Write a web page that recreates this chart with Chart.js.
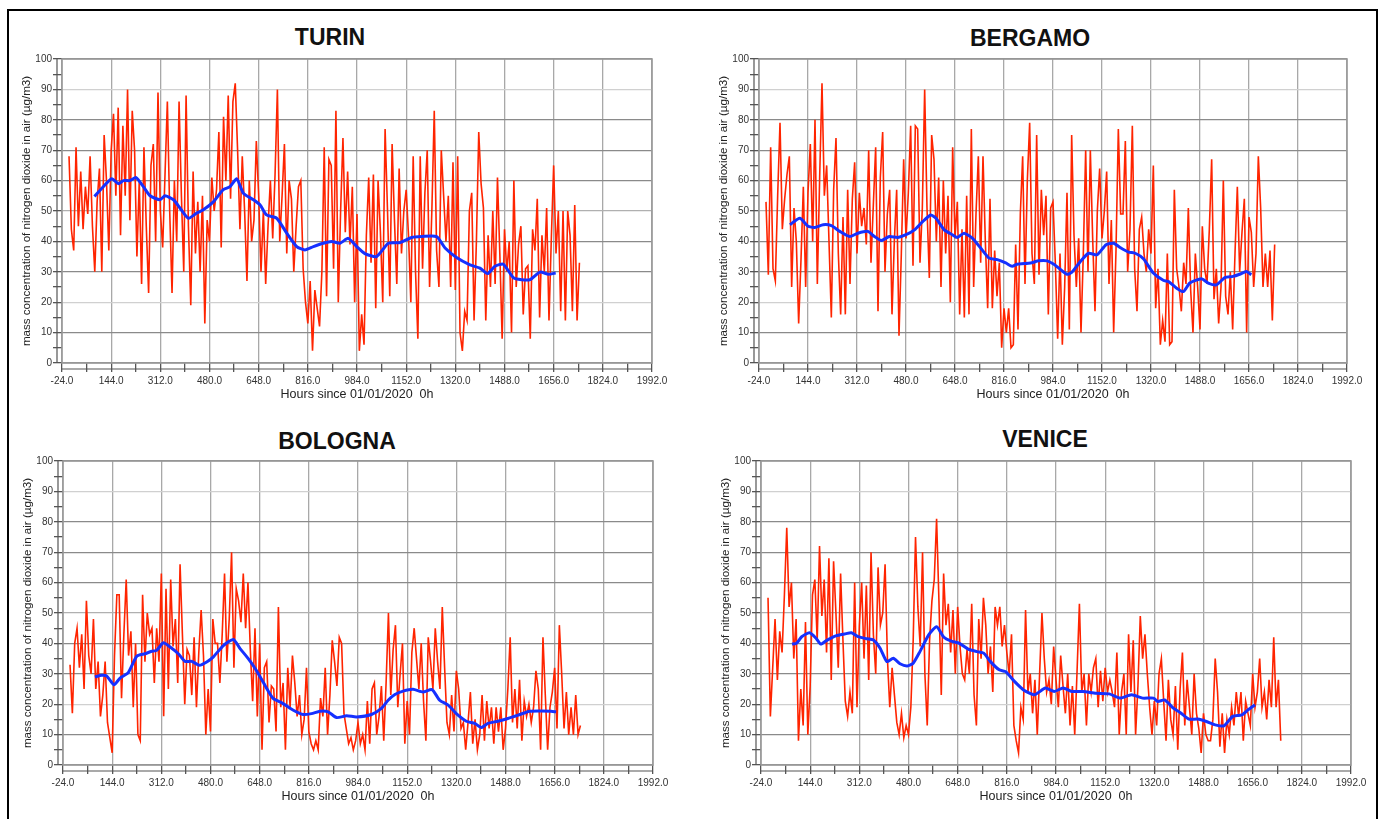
<!DOCTYPE html>
<html>
<head>
<meta charset="utf-8">
<script src="https://cdn.jsdelivr.net/npm/chart.js@4.4.1/dist/chart.umd.min.js"></script>
<style>
  body { margin: 0; background: #fff; width: 1378px; height: 819px; overflow: hidden; position: relative; font-family: 'Liberation Sans', Arial, sans-serif; }
  canvas { position: absolute; }
  .ttl { position: absolute; font-weight: bold; font-size: 23px; color: #111; transform: translate(-50%, -50%); white-space: nowrap; }
  #frame { position: absolute; left: 7px; top: 9px; width: 1367px; height: 820px; border: 2px solid #000; }
</style>
</head>
<body>
<div id="frame"></div>
<div class="ttl" style="left:330px; top:37px;">TURIN</div>
<div class="ttl" style="left:1030px; top:38px;">BERGAMO</div>
<div class="ttl" style="left:337px; top:441px;">BOLOGNA</div>
<div class="ttl" style="left:1045px; top:439px;">VENICE</div>
<canvas id="turin"></canvas>
<canvas id="bergamo"></canvas>
<canvas id="bologna"></canvas>
<canvas id="venice"></canvas>
<script>
// hourly NO2 series sampled every 8 h starting at hour 0
const redStepHours = 8;

const turinRed = [
  68,44,37,71,45,63,44,58,49,68,45,30,53,64,30,75,60,37,70,82,55,
  84,42,78,55,90,47,83,70,35,60,26,71,45,23,65,72,40,89,50,38,62,
  86,50,23,60,40,86,55,30,88,45,19,63,36,53,30,55,13,47,40,61,50,
  57,76,38,81,60,88,54,86,92,70,44,68,50,27,60,40,47,73,55,30,50,
  26,45,60,41,62,90,40,55,72,36,60,54,30,45,58,60,31,20,13,27,4,
  24,18,12,30,71,22,67,65,31,83,20,50,74,43,63,39,58,20,49,4,16,
  6,42,61,33,62,18,60,43,20,77,51,22,72,47,26,64,36,50,57,42,20,
  68,30,8,68,31,56,70,25,51,83,37,25,70,55,40,55,25,66,24,68,10,
  4,17,14,50,56,14,40,76,59,51,14,42,25,50,26,61,36,8,44,30,40,
  10,60,25,39,45,16,31,32,8,44,37,54,15,42,30,51,14,41,65,36,50,
  17,50,14,50,42,17,52,14,33
];
const turinAvgHours = [87,117,146,169,186,208,229,254,277,311,328,357,379,408,436,459,493,527,550,573,
  596,630,653,675,710,744,778,806,835,869,897,926,954,983,1011,1051,1091,1131,1171,1205,
  1256,1285,1324,1370,1404,1430,1455,1484,1518,1547,1575,1609,1638,1663];
const turinAvg = [54.8,58,60.6,59,60,60,61,58,55,53.7,55,53.7,51,47.6,49.3,50.4,53,57,58,60.6,
  55.8,53.7,52,48.7,47.6,42.7,38.3,37.2,38.3,39.4,40,39.4,41,38.3,36,35,39.4,39.6,41.3,41.6,
  41.6,37.8,34.7,32.3,31.2,29.4,31.8,32.5,28.1,27.4,27.4,29.9,29.2,29.6];

const bergamoRed = [
  53,29,71,31,27,55,79,44,54,62,68,25,51,40,13,34,58,25,56,72,40,
  80,26,61,92,55,65,40,15,57,74,36,16,48,16,57,26,54,66,36,56,45,
  51,39,70,33,52,71,17,61,76,30,49,57,16,40,57,9,36,67,41,56,78,
  32,78,77,33,51,90,51,28,75,67,40,61,25,60,36,55,20,71,41,53,16,
  44,15,55,16,77,25,49,68,33,68,40,18,54,18,37,22,33,5,18,10,18,
  5,6,39,11,49,68,26,60,79,36,26,75,29,57,42,55,16,51,53,33,8,
  36,6,25,56,11,75,42,25,41,10,36,70,30,70,41,17,50,64,41,50,63,
  26,47,10,37,77,49,49,73,30,44,78,31,17,44,48,36,30,44,36,65,18,
  31,6,14,7,36,6,7,57,31,25,17,33,26,51,24,10,36,25,11,45,31,
  26,44,67,21,31,13,25,60,22,16,30,11,36,58,30,43,54,10,48,43,25,
  36,68,51,25,36,25,37,14,39
];
const bergamoAvgHours = [82,116,144,167,196,224,253,287,315,349,372,395,423,452,480,509,537,565,583,611,
  639,656,679,708,736,765,793,822,844,861,907,935,964,987,1004,1032,1049,1078,1106,1135,
  1166,1192,1214,1243,1266,1294,1328,1362,1380,1408,1431,1453,1493,1516,1544,1573,1601,1624,1647,1664];
const bergamoAvg = [45.5,47.6,45,44.6,45.5,45.2,43.3,41.6,42.7,43.3,41.6,40.3,41.6,41.3,42.2,43.8,46.5,48.7,47.6,43.8,
  42.2,41.3,42.7,41,37.8,34.5,34,32.9,31.8,32.5,32.9,33.6,33.6,32.5,31.2,29.2,29.9,33.4,36.1,35.6,
  38.9,39.4,38,36.5,36.1,34.3,29.6,27.2,26.8,24.6,23.5,26.3,27.7,26.3,25.7,28.1,28.5,29.2,30.1,29];

const bolognaRed = [
  33,17,40,45,32,43,25,54,36,30,48,25,34,16,23,34,14,9,4,36,56,
  56,22,43,61,36,44,19,40,10,8,56,34,50,43,45,27,45,34,63,16,58,
  25,61,39,48,27,66,43,20,38,36,23,42,19,37,51,36,10,25,11,48,40,
  40,27,43,63,34,48,70,32,58,54,47,63,45,60,38,21,45,16,40,5,32,
  34,14,26,25,11,52,19,27,5,32,19,36,27,16,23,10,15,32,11,7,5,
  8,5,22,16,32,10,23,41,34,26,42,40,17,12,7,9,5,8,14,7,10,
  5,21,7,25,27,10,16,26,8,27,50,23,38,46,19,30,40,7,21,10,37,
  45,35,25,40,21,8,42,34,25,45,34,25,52,32,14,10,23,11,31,25,12,
  14,5,14,24,7,15,5,10,23,8,21,12,19,7,19,11,19,5,12,25,42,
  14,25,12,28,8,21,16,20,14,19,31,25,5,42,23,5,19,24,32,12,46,
  30,12,24,10,19,10,23,10,13
];
const bolognaAvgHours = [85,108,125,150,171,199,228,256,279,296,319,342,370,393,416,442,467,489,524,558,
  581,609,637,666,694,728,763,797,825,854,882,911,945,979,1030,1064,1087,1110,1138,1172,
  1206,1237,1263,1292,1320,1354,1383,1405,1428,1462,1496,1531,1570,1610,1644,1661];
const bolognaAvg = [29,29.5,29.3,26.4,28.6,30.4,35.8,36.6,37.4,37.7,40.2,38.8,36.6,34.1,34.1,32.8,33.9,35.5,39.3,41.3,
  38.3,35,31.1,26.2,21.9,20.2,18,16.6,16.9,17.7,17.5,15.6,16.2,15.8,16.6,18.6,21.3,23.2,24.3,24.9,
  24,24.8,21.3,19.7,16.9,14.4,13.7,12.3,13.7,14.4,15.3,16.4,17.7,17.8,17.7,17.5];

const veniceRed = [
  55,16,32,48,28,44,37,56,78,52,60,35,48,8,25,13,47,10,26,56,61,
  41,72,49,61,37,68,28,67,50,32,63,41,21,16,24,17,60,19,46,60,35,
  59,28,70,43,30,65,46,50,66,35,19,32,23,14,10,17,9,13,10,19,41,
  75,52,39,70,30,13,41,54,61,81,54,23,63,46,53,37,51,30,52,39,30,
  28,38,30,53,23,13,48,35,55,46,30,39,24,52,46,52,39,46,37,30,43,
  13,8,4,19,15,51,24,30,17,28,10,30,50,35,24,28,20,39,28,19,36,
  26,17,30,13,26,10,31,53,24,30,13,30,24,32,35,19,31,21,32,24,28,
  24,19,37,10,24,30,10,43,24,41,10,26,49,35,43,30,19,10,21,13,30,
  35,21,8,28,15,10,26,5,25,37,13,28,19,10,30,17,12,4,17,10,8,
  8,15,35,24,6,17,4,15,10,19,13,24,16,24,8,21,17,13,30,19,24,
  35,19,24,15,28,19,42,19,28,8
];
const veniceAvgHours = [82,97,115,142,164,180,202,232,262,285,308,338,360,383,406,428,451,476,496,519,
  549,576,601,624,654,684,714,737,760,790,812,842,873,910,948,978,1008,1038,1076,1121,
  1166,1204,1242,1280,1317,1332,1355,1385,1408,1438,1468,1498,1528,1558,1588,1619,1641,1664];
const veniceAvg = [39.8,40,42.2,43.5,41.7,39.8,41.1,42.5,43.1,43.5,42.2,41.5,41.1,38.4,34,35.1,33.3,32.6,33.5,37.3,
  42.8,45.5,42,40.8,40,38.1,37.3,36.8,34,31.3,30.7,27.5,24.7,23.1,25.3,24.2,25.3,24.2,24.2,23.6,
  23.4,22,23.1,22,22,20.9,21.4,18.7,17.3,15.1,15.1,14.3,13.2,12.9,16,16.5,18.2,19.8];

const xMin = -24, xMax = 1992, xMajor = 168;
const yTitle = 'mass concentration of nitrogen dioxide in air (\u00b5g/m3)';
const xTitle = 'Hours since 01/01/2020  0h';

Chart.defaults.font.family = "'Liberation Sans', Arial, sans-serif";

// plot box + detached axis lines like the original software
const framePlugin = {
  id: 'frame',
  beforeDatasetsDraw(chart) {
    const a = chart.chartArea, c = chart.ctx;
    c.save();
    c.strokeStyle = '#9a9a9a';
    c.lineWidth = 1.6;
    c.strokeRect(a.left, a.top, a.right - a.left, a.bottom - a.top);
    c.strokeStyle = '#555';
    c.lineWidth = 1.2;
    c.beginPath();
    c.moveTo(a.left, a.bottom + 6); c.lineTo(a.right, a.bottom + 6);
    c.moveTo(a.left - 5, a.top); c.lineTo(a.left - 5, a.bottom);
    c.stroke();
    c.restore();
  }
};

function makePanel(id, box, red, avgHours, avg) {
  const el = document.getElementById(id);
  const padL = 62, padT = 10, padR = 24, padB = 48;
  el.width = box.right - box.left + padL + padR;
  el.height = box.bottom - box.top + padT + padB;
  el.style.left = (box.left - padL) + 'px';
  el.style.top = (box.top - padT) + 'px';

  const isMajorX = v => Math.abs(((v - xMin) % xMajor)) < 0.01;

  new Chart(el, {
    type: 'line',
    data: {
      datasets: [
        {
          data: avgHours.map((h, i) => ({ x: h, y: avg[i] })),
          borderColor: '#1530ff',
          borderWidth: 3,
          pointRadius: 0,
          tension: 0.2
        },
        {
          data: red.map((v, i) => ({ x: i * redStepHours, y: v })),
          borderColor: '#ff2400',
          borderWidth: 1.6,
          pointRadius: 0,
          tension: 0
        }
      ]
    },
    options: {
      responsive: false,
      devicePixelRatio: 1,
      animation: false,
      events: [],
      layout: { padding: { top: padT, right: padR, left: 0, bottom: 0 } },
      plugins: { legend: { display: false }, tooltip: { enabled: false } },
      scales: {
        x: {
          type: 'linear',
          min: xMin, max: xMax,
          afterFit: s => { s.height = padB; },
          border: { display: false },
          grid: {
            color: c => isMajorX(c.tick.value) ? '#a8a8a8' : 'rgba(0,0,0,0)',
            tickColor: '#555',
            lineWidth: 1.3,
            tickLength: 9
          },
          ticks: {
            stepSize: 84,
            autoSkip: false,
            maxRotation: 0,
            padding: 3,
            color: '#333',
            font: { size: 10 },
            callback: v => isMajorX(v) ? v.toFixed(1) : ''
          },
          title: { display: true, text: xTitle, color: '#222', font: { size: 12.5 }, padding: { top: 0, bottom: 9 } }
        },
        y: {
          min: 0, max: 100,
          afterFit: s => { s.width = padL; },
          border: { display: false },
          grid: {
            color: c => {
              const v = c.tick.value;
              if (v % 10 !== 0) return 'rgba(0,0,0,0)';
              if (v === 20 || v === 90) return '#d0d0d0';
              if (v === 50) return '#b0b0b0';
              return '#8a8a8a';
            },
            tickColor: '#555',
            lineWidth: 1.3,
            tickLength: 9
          },
          ticks: {
            stepSize: 5,
            autoSkip: false,
            padding: 1,
            color: '#333',
            font: { size: 10 },
            callback: v => v % 10 === 0 ? v : ''
          },
          title: { display: true, text: yTitle, color: '#222', font: { size: 11.6 }, padding: { top: 20, bottom: 0 } }
        }
      }
    },
    plugins: [framePlugin]
  });
}

makePanel('turin',   { left: 62,  top: 59,  right: 652,  bottom: 363 }, turinRed,   turinAvgHours,   turinAvg);
makePanel('bergamo', { left: 759, top: 59,  right: 1347, bottom: 363 }, bergamoRed, bergamoAvgHours, bergamoAvg);
makePanel('bologna', { left: 63,  top: 461, right: 653,  bottom: 765 }, bolognaRed, bolognaAvgHours, bolognaAvg);
makePanel('venice',  { left: 761, top: 461, right: 1351, bottom: 765 }, veniceRed,  veniceAvgHours,  veniceAvg);
</script>
</body>
</html>
